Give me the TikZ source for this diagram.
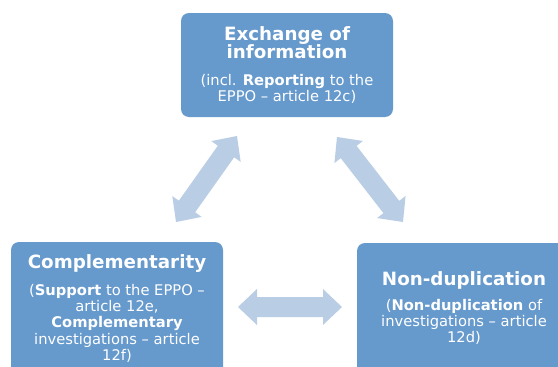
\documentclass[tikz,border=0pt]{standalone}
\usepackage{fontspec}
\setmainfont{DejaVu Sans}
\usetikzlibrary{calc}
\definecolor{boxfill}{RGB}{102,153,204}
\definecolor{arrowfill}{RGB}{185,205,229}
\tikzset{
  box/.style={fill=boxfill, draw=none, rounded corners=8pt, minimum width=212pt, inner sep=0pt},
  titletext/.style={anchor=north, inner sep=0pt, align=center, text=white,
    font=\fontsize{18.3}{18.3}\selectfont\bfseries},
  subtext/.style={anchor=north, inner sep=0pt, align=center, text=white,
    font=\fontsize{14.7}{16.3}\selectfont},
}
\newcommand\blockarr[2]{%
  \fill[arrowfill] (#1)
    -- ($(#1)!19pt!(#2)!18pt!90:(#2)$)
    -- ($(#1)!19pt!(#2)!10pt!90:(#2)$)
    -- ($(#2)!19pt!(#1)!10pt!-90:(#1)$)
    -- ($(#2)!19pt!(#1)!18pt!-90:(#1)$)
    -- (#2)
    -- ($(#2)!19pt!(#1)!18pt!90:(#1)$)
    -- ($(#2)!19pt!(#1)!10pt!90:(#1)$)
    -- ($(#1)!19pt!(#2)!10pt!-90:(#2)$)
    -- ($(#1)!19pt!(#2)!18pt!-90:(#2)$)
    -- cycle;}
\begin{document}
\begin{tikzpicture}[x=1pt,y=-1pt]
\useasboundingbox (0,0) rectangle (558,367);
\clip (0,0) rectangle (558,367);
% boxes
\node[box, minimum height=104pt] (exch) at (287,65) {};
\node[box, minimum height=148pt] (compl) at (117,316) {};
\node[box, minimum height=148pt] (nondup) at (463,317) {};
% texts
\node[titletext] (exchT) at (287,26.1) {Exchange of\\information};
\node[subtext] (exchS) at (287,73.8) {(incl. \textbf{Reporting} to the\\EPPO – article 12c)};
\node[titletext] (complT) at (117,254.4) {Complementarity};
\node[subtext] (complS) at (117,283.8) {(\textbf{Support} to the EPPO –\\article 12e,\\\textbf{Complementary}\\investigations – article\\12f)};
\node[titletext] (nondupT) at (464,271.1) {Non-duplication};
\node[subtext] (nondupS) at (464,298.8) {(\textbf{Non-duplication} of\\investigations – article\\12d)};
% arrow end points
\coordinate (l1) at (176,222);
\coordinate (l2) at (237,136);
\coordinate (r1) at (337,137);
\coordinate (r2) at (403,222);
\coordinate (h1) at (238,307);
\coordinate (h2) at (342,307);
\blockarr{l1}{l2}
\blockarr{r1}{r2}
\blockarr{h1}{h2}
\end{tikzpicture}
\end{document}
